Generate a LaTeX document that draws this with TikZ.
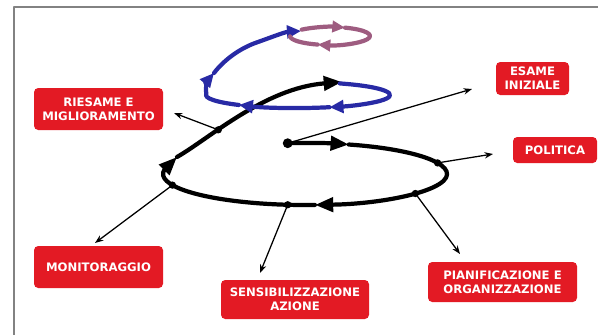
\documentclass[tikz,border=0pt]{standalone}
\usepackage{fontspec}
\usepackage{tikz}
\usetikzlibrary{arrows.meta}
\setsansfont{DejaVu Sans}
\definecolor{boxred}{RGB}{227,26,36}
\definecolor{loopblue}{RGB}{40,42,165}
\definecolor{loopmauve}{RGB}{158,92,128}
\definecolor{framegray}{RGB}{130,130,130}
\newcommand{\pxu}{0.025cm}

\begin{document}
\begin{tikzpicture}[x=0.025cm, y=-0.025cm, >={Stealth[length=6pt,width=4.5pt]},
                    line cap=round, line join=round]

    % Define the styles
    \tikzset{phase/.style={rectangle, rounded corners=3pt, fill=boxred, text=white, align=center,
                           font=\sffamily\bfseries\fontsize{8.3}{10}\selectfont, inner sep=2pt},
             link/.style={->, line width=0.9pt},
             turn/.style={line width=3pt},
             bigtip/.style={-{Triangle[length=13pt,width=10pt]}},
             bluetip/.style={-{Triangle[length=10pt,width=9pt]}},
             mauvetip/.style={-{Triangle[length=9pt,width=8pt]}},
             lowarc/.style={x radius=142, y radius=31},
             midarc/.style={x radius=92, y radius=13},
             toparc/.style={x radius=40, y radius=9}}

    \useasboundingbox (0,0) rectangle (598,335);
    \draw[framegray, line width=1.1pt] (14,335) -- (14,7) -- (598,7);

    % Nodes
    \node[phase, minimum width=129*\pxu, minimum height=42*\pxu] (riesame) at (98.5,109) {RIESAME E\\MIGLIORAMENTO};
    \node[phase, minimum width=73*\pxu, minimum height=33*\pxu] (esame) at (532.5,78.5) {ESAME\\INIZIALE};
    \node[phase, minimum width=84*\pxu, minimum height=26*\pxu] (politica) at (555,150) {POLITICA};
    \node[phase, minimum width=129*\pxu, minimum height=42*\pxu] (monitoraggio) at (98.5,267) {MONITORAGGIO};
    \node[phase, minimum width=148*\pxu, minimum height=39*\pxu] (sensib) at (295,299.5) {SENSIBILIZZAZIONE\\AZIONE};
    \node[phase, minimum width=149*\pxu, minimum height=40*\pxu] (pianif) at (502.5,282) {PIANIFICAZIONE E\\ORGANIZZAZIONE};

    % Centres of the three turns
    \coordinate (lowc) at (305,174);
    \coordinate (midc) at (298,95);
    \coordinate (topc) at (330,36);

    % Black turn
    \draw[turn, bigtip] ([shift={(-97:142 and 31)}]lowc) arc[lowarc, start angle=-97, end angle=-72];
    \draw[turn, bigtip] ([shift={(-72:142 and 31)}]lowc) arc[lowarc, start angle=-72, end angle=86];
    \draw[turn, bigtip] ([shift={(86:142 and 31)}]lowc) arc[lowarc, start angle=86, end angle=188] -- (177,157);
    \draw[turn, bigtip] (177,157) .. controls (210,138) and (265,88) .. coordinate[pos=0.34] (dRie) (342,82);

    % Blue turn
    \draw[turn, loopblue, bluetip] ([shift={(-63:92 and 13)}]midc) arc[midarc, start angle=-63, end angle=70];
    \draw[turn, loopblue, bluetip] ([shift={(70:92 and 13)}]midc) arc[midarc, start angle=70, end angle=130];
    \draw[turn, loopblue, bluetip] ([shift={(130:92 and 13)}]midc) arc[midarc, start angle=130, end angle=185]
        .. controls (205,86) and (208,80) .. (214,73);
    \draw[turn, loopblue, bluetip] (214,73) .. controls (224,60) and (240,48) .. (258,42)
        .. controls (272,37) and (285,32) .. (301,31);

    % Mauve turn
    \draw[turn, loopmauve, mauvetip] ([shift={(-135:40 and 9)}]topc) arc[toparc, start angle=-135, end angle=-68];
    \draw[turn, loopmauve, mauvetip] ([shift={(-68:40 and 9)}]topc) arc[toparc, start angle=-68, end angle=108];
    \draw[turn, loopmauve] ([shift={(108:40 and 9)}]topc) arc[toparc, start angle=108, end angle=178];

    % Points on the spiral and arrow ends
    \coordinate (dEsa) at ([shift={(-97:142 and 31)}]lowc);
    \coordinate (dPol) at ([shift={(-21:142 and 31)}]lowc);
    \coordinate (dPia) at ([shift={(39:142 and 31)}]lowc);
    \coordinate (dSen) at ([shift={(97:142 and 31)}]lowc);
    \coordinate (dMon) at ([shift={(159:142 and 31)}]lowc);
    \coordinate (tRie) at (174,113);
    \coordinate (tEsa) at (472,89);
    \coordinate (tPol) at (493,154);
    \coordinate (tPia) at (460,254);
    \coordinate (tSen) at (260,273);
    \coordinate (tMon) at (95,243);

    \fill (dEsa) circle[radius=3.5pt];
    \foreach \d in {dRie, dPol, dPia, dSen, dMon}
        \fill (\d) circle[radius=2.6pt];

    % Paths
    \draw[link] (dRie) -- (tRie);
    \draw[link] (dEsa) -- (tEsa);
    \draw[link] (dPol) -- (tPol);
    \draw[link] (dPia) -- (tPia);
    \draw[link] (dSen) -- (tSen);
    \draw[link] (dMon) -- (tMon);
\end{tikzpicture}
\end{document}
